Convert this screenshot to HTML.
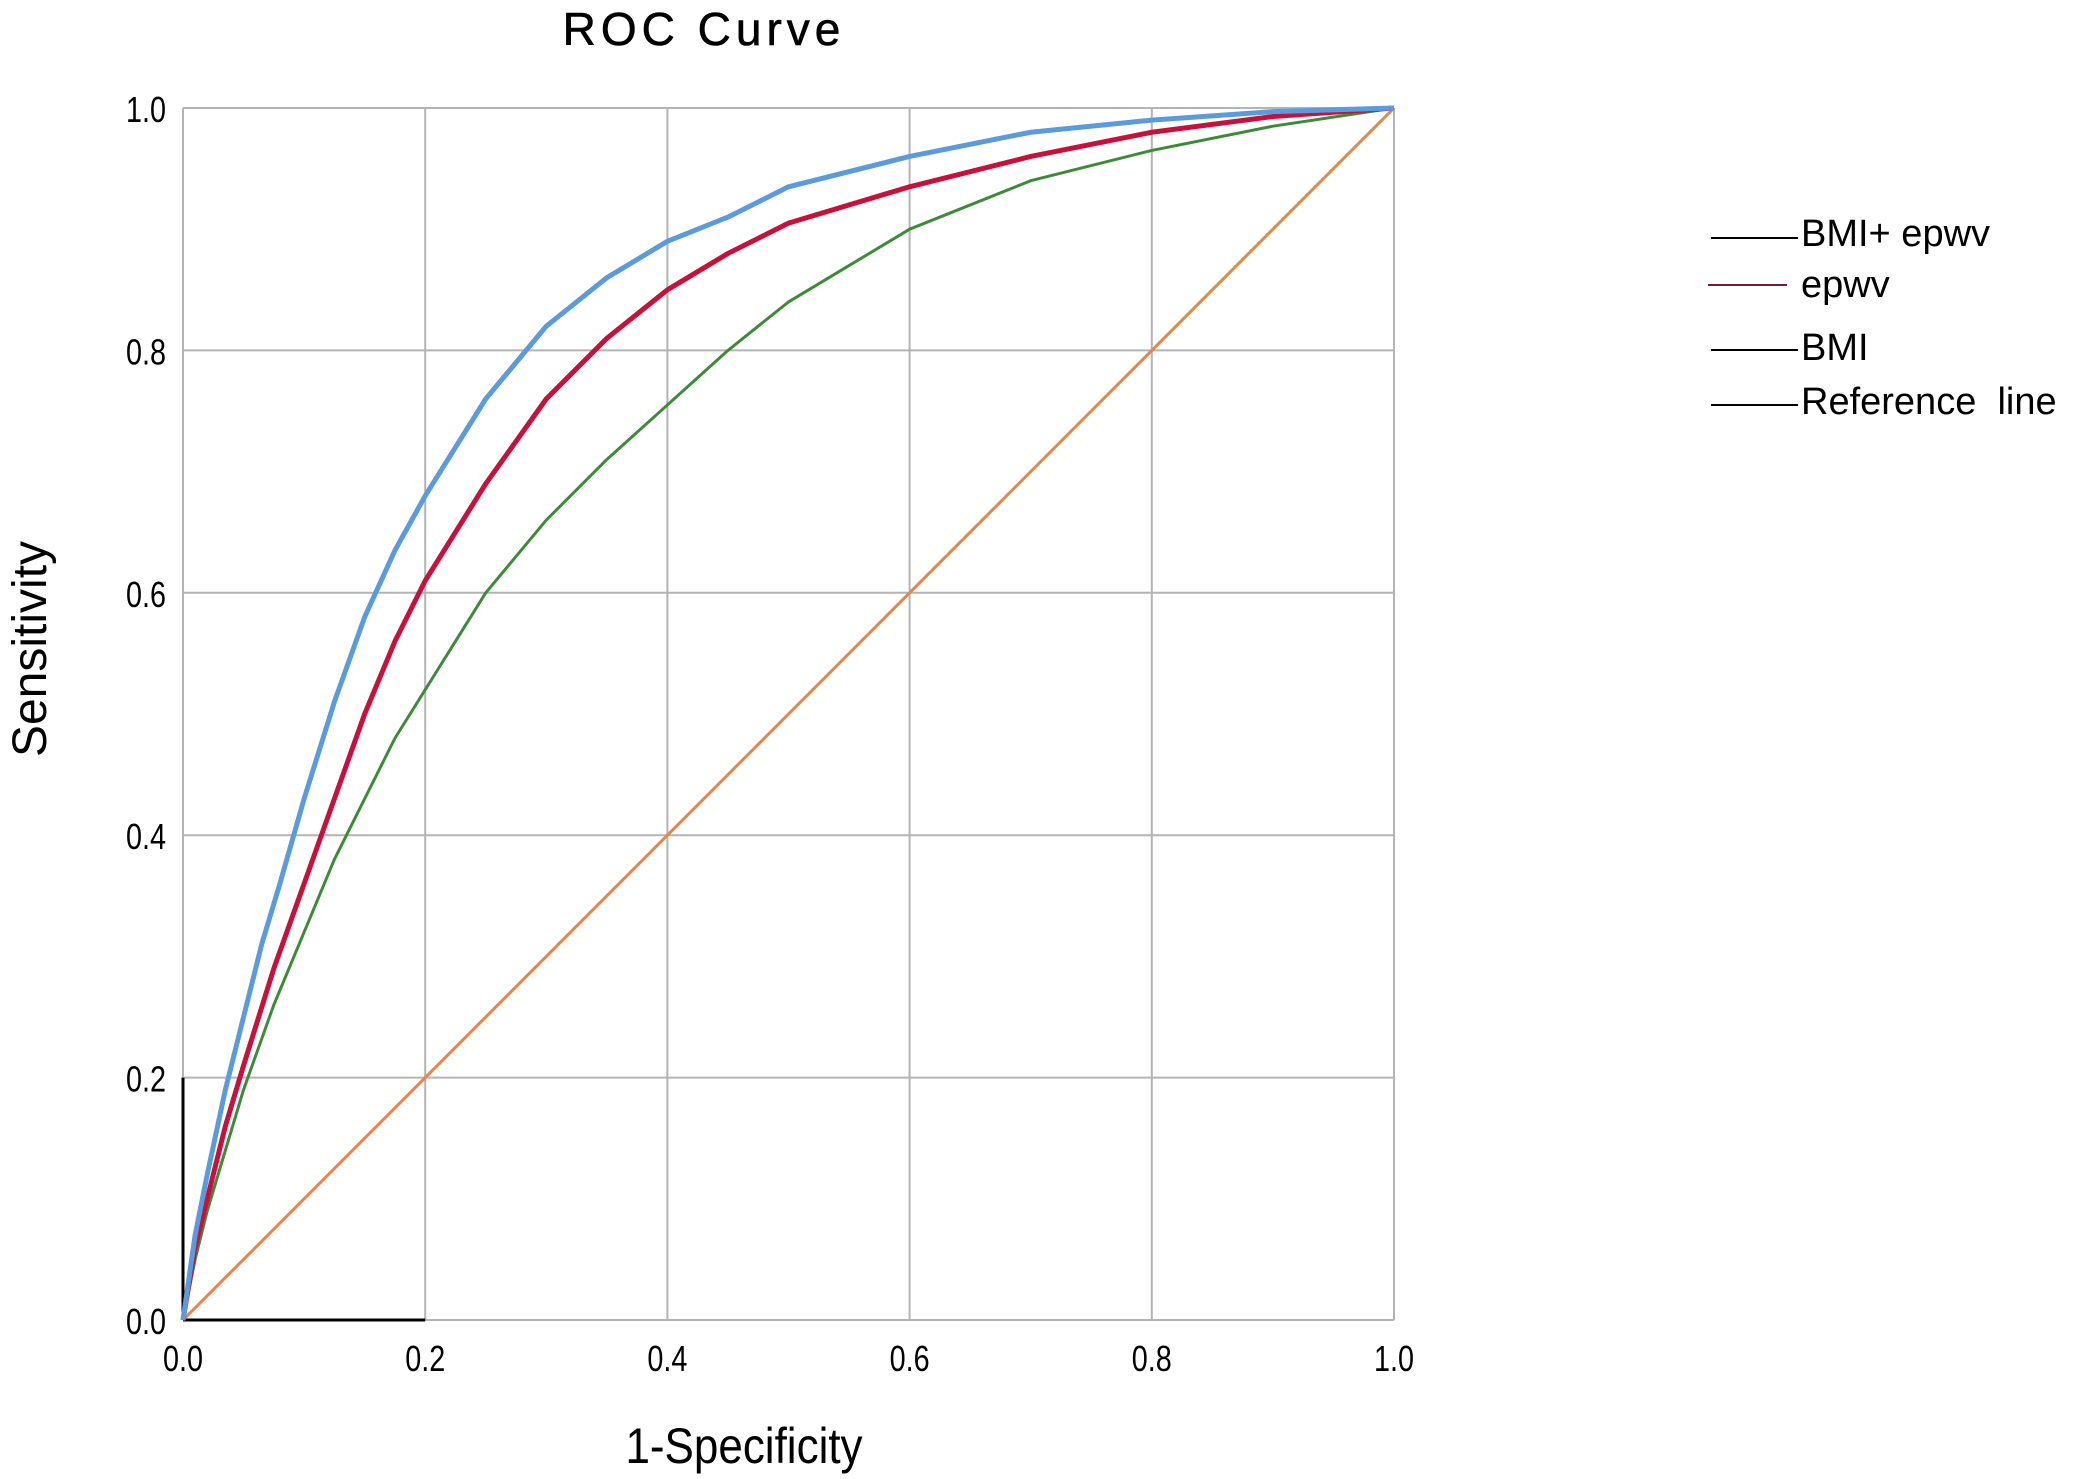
<!DOCTYPE html>
<html><head><meta charset="utf-8"><style>
html,body{margin:0;padding:0;background:#fff;}
svg{display:block;}
text{font-family:"Liberation Sans",sans-serif;fill:#000;}
</style></head><body>
<svg id="chart" width="2091" height="1479" viewBox="0 0 2091 1479">
<text x="704" y="45" font-size="46" text-anchor="middle" letter-spacing="5" stroke="#000" stroke-width="0.6">ROC Curve</text>
<g id="grid"></g>
<g id="ticks"></g>
<g id="series"></g>
<text x="0" y="0" font-size="50" text-anchor="middle" transform="translate(744 1463) scale(0.88 1)">1-Specificity</text>
<text x="0" y="0" font-size="48" text-anchor="middle" transform="translate(46 649) rotate(-90)">Sensitivity</text>
<g>
<g><line x1="1711" y1="238" x2="1798" y2="238" stroke="#000" stroke-width="2"/><text x="1801" y="246" font-size="38">BMI+ epwv</text></g>
<g><line x1="1708" y1="285" x2="1787" y2="285" stroke="#7a1a3a" stroke-width="2"/><text x="1801" y="297" font-size="38">epwv</text></g>
<g><line x1="1711" y1="350" x2="1798" y2="350" stroke="#000" stroke-width="2"/><text x="1801" y="360" font-size="38">BMI</text></g>
<g><line x1="1711" y1="405" x2="1798" y2="405" stroke="#000" stroke-width="2"/><text x="1801" y="414" font-size="38" xml:space="preserve">Reference  line</text></g>
</g>
</svg>
<script>
const ticks = [0, 0.2, 0.4, 0.6, 0.8, 1.0];
const tickLabels = ["0.0","0.2","0.4","0.6","0.8","1.0"];
const bmiEpwvX = [0,0.01,0.02,0.035,0.05,0.065,0.08,0.1,0.125,0.15,0.175,0.2,0.25,0.3,0.35,0.4,0.45,0.5,0.6,0.7,0.8,0.9,1];
const bmiEpwvY = [0,0.07,0.12,0.19,0.25,0.31,0.36,0.43,0.51,0.58,0.635,0.68,0.76,0.82,0.86,0.89,0.91,0.935,0.96,0.98,0.99,0.997,1];
const epwvX = [0,0.01,0.02,0.035,0.05,0.075,0.1,0.125,0.15,0.175,0.2,0.25,0.3,0.35,0.4,0.45,0.5,0.6,0.7,0.8,0.9,1];
const epwvY = [0,0.06,0.1,0.16,0.21,0.29,0.36,0.43,0.5,0.56,0.61,0.69,0.76,0.81,0.85,0.88,0.905,0.935,0.96,0.98,0.993,1];
const bmiX = [0,0.01,0.02,0.035,0.05,0.075,0.1,0.125,0.15,0.175,0.2,0.25,0.3,0.35,0.4,0.45,0.5,0.55,0.6,0.7,0.8,0.9,1];
const bmiY = [0,0.05,0.09,0.14,0.19,0.26,0.32,0.38,0.43,0.48,0.52,0.6,0.66,0.71,0.755,0.8,0.84,0.87,0.9,0.94,0.965,0.985,1];
const refX = [0,1];
const refY = [0,1];

const X0=183, X1=1394, Y0=1320, Y1=108;
const sx = v => X0 + v*(X1-X0);
const sy = v => Y0 - v*(Y0-Y1);
const NS="http://www.w3.org/2000/svg";
function mk(tag, attrs, parent){const e=document.createElementNS(NS,tag);for(const k in attrs)e.setAttribute(k,attrs[k]);parent.appendChild(e);return e;}
const grid=document.getElementById('grid');
ticks.forEach((t,i)=>{
  const v=mk('line',{x1:sx(t),x2:sx(t),y1:sy(0),y2:sy(1),stroke:'#b4b4b4','stroke-width':2},grid);
  
  
  const h=mk('line',{x1:sx(0),x2:sx(1),y1:sy(t),y2:sy(t),stroke:'#b4b4b4','stroke-width':2},grid);
  
  
});
const ax1=mk('line',{x1:sx(0),x2:sx(0),y1:sy(0),y2:sy(0.2),stroke:'#000','stroke-width':3},grid);


const ax2=mk('line',{x1:sx(0),x2:sx(0.2),y1:sy(0),y2:sy(0),stroke:'#000','stroke-width':3},grid);


const tg=document.getElementById('ticks');
ticks.forEach((t,i)=>{
  const a=mk('text',{x:0,y:0,'font-size':36,'text-anchor':'middle',transform:`translate(${sx(t)} ${Y0+51}) scale(0.8 1)`},tg);
  a.textContent=tickLabels[i];
  
  
  const b=mk('text',{x:0,y:0,'font-size':36,'text-anchor':'end',transform:`translate(166 ${sy(t)+14}) scale(0.8 1)`},tg);
  b.textContent=tickLabels[i];
  
  
});
const sg=document.getElementById('series');
function line(xs,ys,color,w,name){
  const p=mk('polyline',{points:xs.map((x,i)=>sx(x)+','+sy(ys[i])).join(' '),fill:'none',stroke:color,'stroke-width':w,'stroke-linejoin':'round'},sg);
  
  
}
line(refX,refY,'#e8864a',3,'reference-line');
line(bmiX,bmiY,'#3f8a3a',3,'bmi-curve');
line(epwvX,epwvY,'#c8103c',5,'epwv-curve');
line(bmiEpwvX,bmiEpwvY,'#5b9bdc',5,'bmi-epwv-curve');
</script>
</body></html>
